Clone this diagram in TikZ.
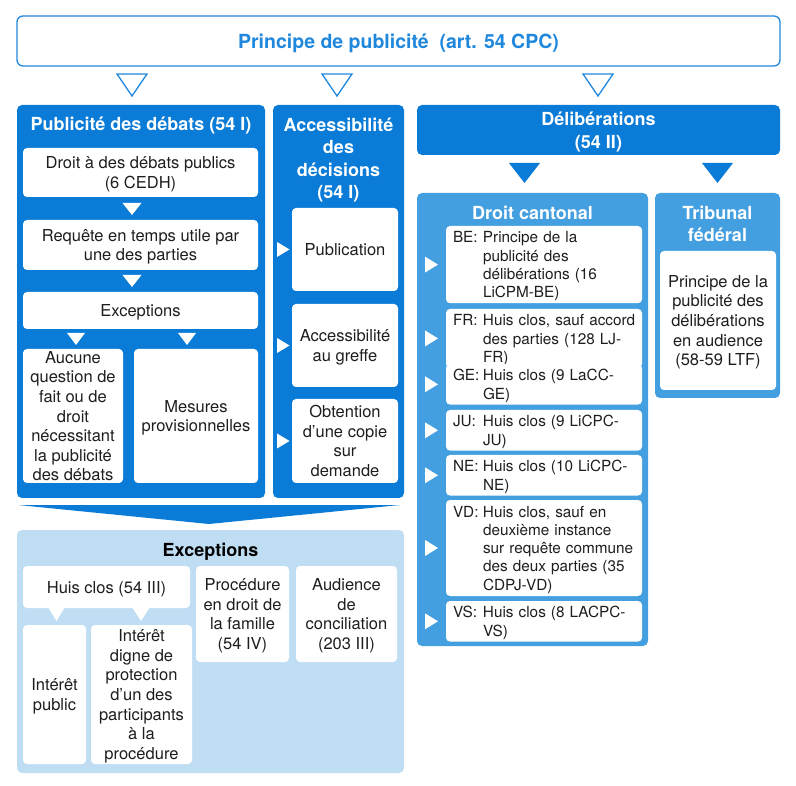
\documentclass[tikz,border=0pt]{standalone}
\usepackage{fontspec}
\setmainfont{TeX Gyre Heros}
\usetikzlibrary{calc}
\definecolor{dblue}{HTML}{0A7BD6}
\definecolor{mblue}{HTML}{449FE1}
\definecolor{lblue}{HTML}{C0DEF3}
\definecolor{tblue}{HTML}{1F88DD}
\definecolor{txt}{HTML}{1E1E1E}
\newcommand\ctext[2]{\makebox[30pt][l]{#1}\begin{tabular}[t]{@{}l@{}}\rule{0pt}{16.8pt}#2\end{tabular}}
\begin{document}
\begin{tikzpicture}[x=1pt,y=-1pt,
  every node/.style={inner sep=0pt, outer sep=0pt, text depth=0pt},
  bx/.style={anchor=north west, rounded corners=4pt, align=center},
  container/.style={bx, rounded corners=5pt},
  wbox/.style={bx, fill=white, text=txt, font=\fontsize{16.5}{19.6}\selectfont},
  cbox/.style={bx, fill=white, text=txt, align=left, inner xsep=7pt, text width=182pt,
    text depth={}, font=\fontsize{15.3}{18.3}\selectfont},
  ttl/.style={align=center, font=\bfseries\fontsize{18}{22.5}\selectfont},
  wtitle/.style={ttl, text=white},
  wtri/.style={fill=white},
  dtri/.style={fill=dblue},
  htri/.style={draw=tblue, line width=1.3pt, fill=white, line join=miter}
]
\fill[white] (0,0) rectangle (796,786);
\useasboundingbox (0,0) rectangle (796,786);

% top
\node[bx, rounded corners=6pt, draw=tblue, line width=1.3pt, fill=white,
  minimum width=763, minimum height=50, text=tblue,
  font=\bfseries\fontsize{19.5}{23}\selectfont] (top) at (17,16)
  {Principe de publicité\ \ (art. 54 CPC)};

% hollow triangles
\path[htri] (top.south west) ++(100,8) -- ++(30,0) -- ++(-15,22) -- cycle;
\path[htri] (top.south west) ++(305,8) -- ++(30,0) -- ++(-15,22) -- cycle;
\path[htri] (top.south west) ++(566,8) -- ++(30,0) -- ++(-15,22) -- cycle;

% containers
\node[container, fill=dblue, minimum width=248, minimum height=393] (pub) at (17,105) {};
\node[container, fill=dblue, minimum width=131, minimum height=393] (acc) at (273,105) {};
\node[container, fill=dblue, minimum width=363, minimum height=50, text=white,
  font=\bfseries\fontsize{18}{22.5}\selectfont] (delib) at (417,105) {Délibérations\\(54 II)};
\node[container, fill=mblue, minimum width=231, minimum height=453] (cant) at (417,193) {};
\node[container, fill=mblue, minimum width=125, minimum height=205] (trib) at (655,193) {};
\node[container, fill=lblue, minimum width=387, minimum height=243] (exc) at (17,530) {};

% titles
\node[wtitle] (pubT) at (141,124) {Publicité des débats (54 I)};
\node[wtitle] (accT) at (338.5,158) {Accessibilité\\des\\décisions\\(54 I)};
\node[wtitle] (cantT) at (532.5,213) {Droit cantonal};
\node[wtitle] (tribT) at (717.5,224) {Tribunal\\fédéral};
\node[ttl, text=black] (excT) at (210.5,550) {Exceptions};

% publicité des débats
\node[wbox, minimum width=235, minimum height=49] (droit) at (23,148) {Droit à des débats publics\\(6 CEDH)};
\node[wbox, minimum width=235, minimum height=50] (req) at (23,220) {Requête en temps utile par\\une des parties};
\node[wbox, minimum width=235, minimum height=37] (exA) at (23,292) {Exceptions};
\node[wbox, minimum width=100, minimum height=134] (auc) at (23,349)
  {Aucune\\question de\\fait ou de\\droit\\nécessitant\\la publicité\\des débats};
\node[wbox, minimum width=124, minimum height=134] (mes) at (134,349) {Mesures\\provisionnelles};
\path[wtri] (droit.south west) ++(99.5,6) -- ++(19,0) -- ++(-9.5,12) -- cycle;
\path[wtri] (req.south west) ++(99.5,5) -- ++(19,0) -- ++(-9.5,12) -- cycle;
\path[wtri] (exA.south west) ++(44,4) -- ++(18,0) -- ++(-9,12) -- cycle;
\path[wtri] (exA.south west) ++(155,4) -- ++(18,0) -- ++(-9,12) -- cycle;

% accessibilité des décisions
\node[wbox, minimum width=106, minimum height=83] (publ) at (292,208) {Publication};
\node[wbox, minimum width=106, minimum height=83] (greffe) at (292,304) {Accessibilité\\au greffe};
\node[wbox, minimum width=106, minimum height=84] (copie) at (292,399) {Obtention\\d'une copie\\sur\\demande};
\foreach \n in {publ,greffe,copie}
  \path[wtri] (\n.west) ++(-15,-7.5) -- ++(0,15) -- ++(12.5,-7.5) -- cycle;

% délibérations
\path[dtri] (delib.south west) ++(92,8) -- ++(31,0) -- ++(-15.5,20) -- cycle;
\path[dtri] (delib.south west) ++(285,8) -- ++(31,0) -- ++(-15.5,20) -- cycle;

\node[wbox, minimum width=116, minimum height=139] (ptrib) at (660,251)
  {Principe de la\\publicité des\\délibérations\\en audience\\(58-59 LTF)};

\node[cbox, minimum height=77] (be) at (446,226) {\ctext{BE:}{Principe de la\\publicité des\\délibérations (16\\LiCPM-BE)}};
\node[cbox, minimum height=50] (fr) at (446,309) {\ctext{FR:}{Huis clos, sauf accord\\des parties (128 LJ-\\FR)}};
\node[cbox, minimum height=38] (ge) at (446,364) {\ctext{GE:}{Huis clos (9 LaCC-\\GE)}};
\node[cbox, minimum height=39] (ju) at (446,410) {\ctext{JU:}{Huis clos (9 LiCPC-\\JU)}};
\node[cbox, minimum height=39] (ne) at (446,455) {\ctext{NE:}{Huis clos (10 LiCPC-\\NE)}};
\node[cbox, minimum height=96] (vd) at (446,500) {\ctext{VD:}{Huis clos, sauf en\\deuxième instance\\sur requête commune\\des deux parties (35\\CDPJ-VD)}};
\node[cbox, minimum height=39] (vs) at (446,601) {\ctext{VS:}{Huis clos (8 LACPC-\\VS)}};
\foreach \n in {be,fr,ge,ju,ne,vd,vs}
  \path[wtri] (\n.west) ++(-21,-8) -- ++(0,16) -- ++(13,-8) -- cycle;

% chevron
\path[fill=dblue] (pub.south west) ++(1,7) -- ++(382,0) -- ++(-191,19) -- cycle;

% exceptions
\node[wbox, minimum width=167, minimum height=42] (huis) at (23,566) {Huis clos (54 III)};
\path[wtri] (huis.south west) ++(25,-1) -- ++(17,0) -- ++(-8.5,14) -- cycle;
\path[wtri] (huis.south west) ++(109,-1) -- ++(18,0) -- ++(-9,14) -- cycle;
\node[wbox, minimum width=63, minimum height=139] (ipub) at (23,625) {Intérêt\\public};
\node[wbox, minimum width=101, minimum height=139] (idig) at (91,625)
  {Intérêt\\digne de\\protection\\d'un des\\participants\\à la\\procédure};
\node[wbox, minimum width=93, minimum height=96] (proc) at (196,566) {Procédure\\en droit de\\la famille\\(54 IV)};
\node[wbox, minimum width=101, minimum height=96] (aud) at (296,566) {Audience\\de\\conciliation\\(203 III)};
\end{tikzpicture}
\end{document}
